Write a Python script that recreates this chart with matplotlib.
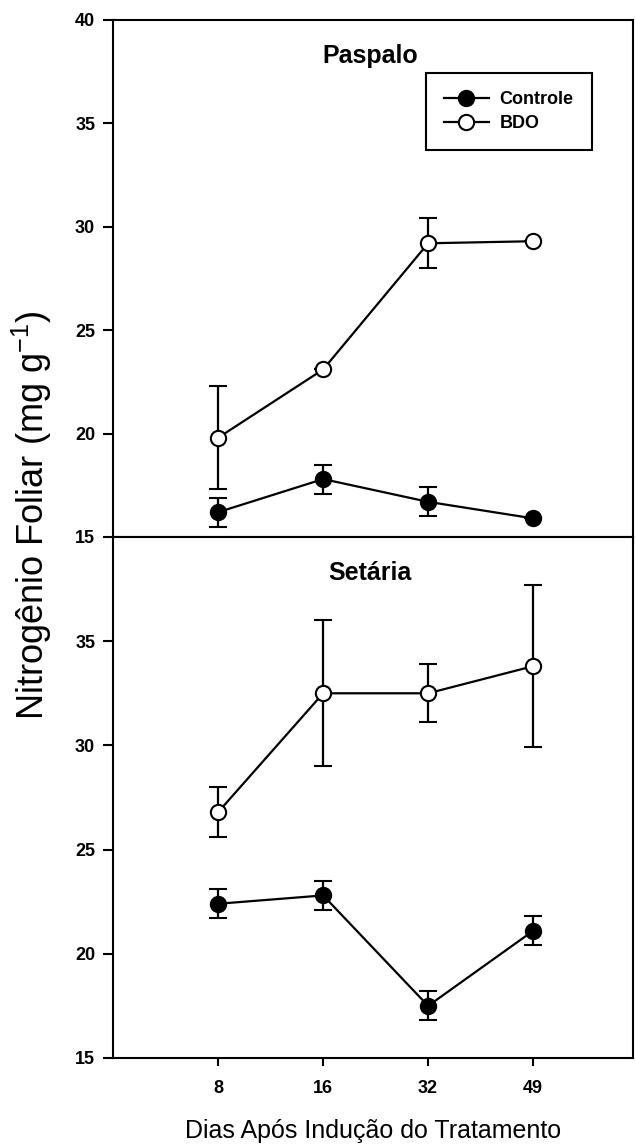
import matplotlib
matplotlib.use("Agg")
import matplotlib.pyplot as plt
from matplotlib.lines import Line2D

plt.rcParams['font.family'] = ['Liberation Sans', 'DejaVu Sans']

dias = ["8", "16", "32", "49"]

# Paspalo
pasp_controle = [16.2, 17.8, 16.7, 15.9]
pasp_controle_err = [0.7, 0.7, 0.7, 0.0]
pasp_bdo = [19.8, 23.1, 29.2, 29.3]
pasp_bdo_err = [2.5, 0.0, 1.2, 0.0]

# Setaria
set_controle = [22.4, 22.8, 17.5, 21.1]
set_controle_err = [0.7, 0.7, 0.7, 0.7]
set_bdo = [26.8, 32.5, 32.5, 33.8]
set_bdo_err = [1.2, 3.5, 1.4, 3.9]

x = range(1, len(dias) + 1)

fig = plt.figure(figsize=(6.36, 11.44), dpi=100)
ax1 = fig.add_axes([0.178, 0.5306, 0.817, 0.452])
ax2 = fig.add_axes([0.178, 0.0752, 0.817, 0.4554])

style = dict(color='black', marker='o', mec='black', ms=11, mew=1.5, lw=1.6,
             capsize=6.5, elinewidth=1.6, capthick=1.6, zorder=3)

def draw_panel(ax, ctrl, ctrl_err, bdo, bdo_err, title):
    ax.errorbar(x, bdo, yerr=bdo_err, mfc='white', **style)
    ax.errorbar(x, ctrl, yerr=ctrl_err, mfc='black', **style)
    ax.set_xlim(0, 4.95)
    ax.set_ylim(15, 40)
    ax.tick_params(axis='y', direction='out', length=7, width=1.5, pad=6, labelsize=13)
    for s in ax.spines.values():
        s.set_linewidth(1.5)
    ax.text(0.494, 0.93, title, transform=ax.transAxes, ha='center', va='center',
            fontsize=18, fontweight='bold')

draw_panel(ax1, pasp_controle, pasp_controle_err, pasp_bdo, pasp_bdo_err, "Paspalo")
draw_panel(ax2, set_controle, set_controle_err, set_bdo, set_bdo_err, "Setária")

ax1.set_xticks([])
ax1.set_yticks([15, 20, 25, 30, 35, 40])
ax2.set_yticks([15, 20, 25, 30, 35])
for ax in (ax1, ax2):
    for lab in ax.get_yticklabels():
        lab.set_fontweight('bold')
ax2.set_xticks(list(x))
ax2.set_xticklabels(dias, fontsize=13, fontweight='bold')
ax2.tick_params(axis='x', direction='out', length=6, width=1.5, pad=10)
ax2.set_xlabel("Dias Após Indução do Tratamento", fontsize=18, labelpad=16)

handles = [
    Line2D([], [], color='black', marker='o', mfc='black', mec='black', ms=11, mew=1.5, lw=1.6),
    Line2D([], [], color='black', marker='o', mfc='white', mec='black', ms=11, mew=1.5, lw=1.6),
]
leg = ax1.legend(handles, ["Controle", "BDO"], loc='upper right',
                 bbox_to_anchor=(0.921, 0.897), borderaxespad=0, fancybox=False,
                 edgecolor='black', framealpha=1, prop={'weight': 'bold', 'size': 13},
                 handlelength=2.5, borderpad=1.0, labelspacing=0.4, handletextpad=0.6)
leg.get_frame().set_linewidth(1.5)

fig.text(0.05, 0.55, "Nitrogênio Foliar (mg g$^{\\mathregular{-1}}$)", rotation=90,
         ha='center', va='center', fontsize=26)

fig.savefig("out.png", dpi=100)
